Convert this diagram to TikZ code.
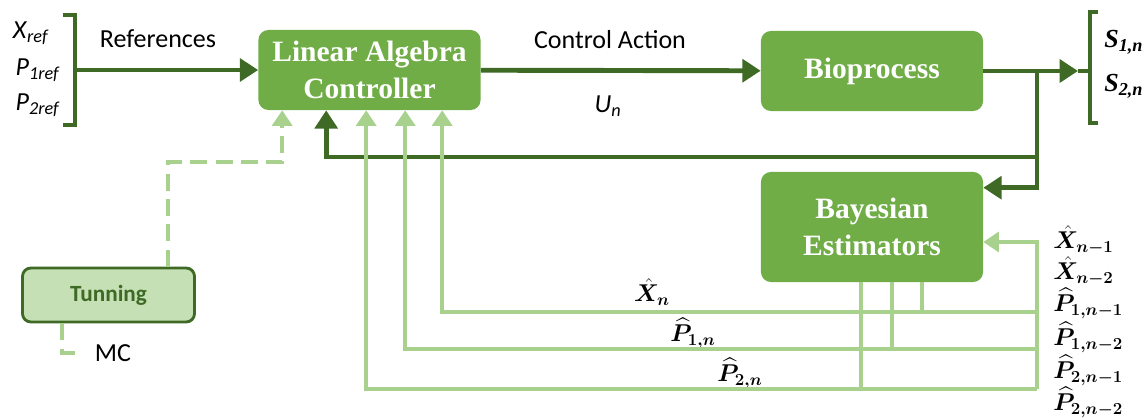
\documentclass[tikz,border=0pt]{standalone}
\usepackage{fontspec}
\usepackage{amsmath}
\usepackage{bm}
\setmainfont{Liberation Serif}
\setsansfont{Carlito}
\definecolor{boxgreen}{HTML}{70AD47}
\definecolor{darkgreen}{HTML}{3E6A26}
\definecolor{lightgreen}{HTML}{A9D18E}
\definecolor{palegreen}{HTML}{C5E0B4}
\usetikzlibrary{calc,positioning,arrows.meta}

\begin{document}
\begin{tikzpicture}[x=0.025cm,y=-0.025cm]
    \tikzstyle{block}=[rectangle,rounded corners=7pt,fill=boxgreen,text=white,
    font=\fontsize{21}{26}\selectfont\bfseries,align=center,minimum width=5.55cm]
    \tikzstyle{tunbox}=[rectangle,rounded corners=6pt,fill=palegreen,draw=darkgreen,line width=2pt,
    text=darkgreen,font=\fontsize{16.5}{20}\selectfont\sffamily\bfseries,minimum width=4.3cm,minimum height=1.35cm]
    \tikzstyle{txt}=[font=\fontsize{18.5}{22}\selectfont\sffamily,inner sep=1pt]
    \tikzstyle{sout}=[font=\fontsize{18.5}{22}\selectfont\bfseries\itshape,inner sep=0pt,anchor=west]
    \tikzstyle{est}=[font=\fontsize{17}{20}\selectfont,inner sep=0pt]
    \tikzstyle{dk}=[draw=darkgreen,line width=3.5pt]
    \tikzstyle{lt}=[draw=lightgreen,line width=2.8pt]
    \tikzstyle{dkarrow}=[-{Triangle[length=13pt,width=16pt]}]
    \tikzstyle{ltarrow}=[-{Triangle[length=11pt,width=14pt]}]
    \tikzstyle{dashline}=[dash pattern=on 12pt off 6pt]

    \useasboundingbox (0,0) rectangle (1145,418);

    \node[block,minimum height=2cm](ctrl) at (369.5,70){Linear Algebra\\Controller};
    \node[block,minimum height=2cm](bio) at (872,71){Bioprocess};
    \node[block,minimum height=2.75cm](bay) at (872,227){Bayesian\\Estimators};
    \node[tunbox](tun) at (108.5,295){Tunning};
    \node[txt](mc) at (113,353){MC};

    \node[txt](xref) at (31,33){\textit{X}\textsubscript{\textit{ref}}};
    \node[txt](p1ref) at (38,70){\textit{P}\textsubscript{\textit{1ref}}};
    \node[txt](p2ref) at (38,105){\textit{P}\textsubscript{\textit{2ref}}};
    \node[txt](refs) at (158,39){References};
    \node[txt](act) at (610,40){Control Action};
    \node[txt](un) at (608,106){\textit{U}\textsubscript{\textit{n}}};
    \node[sout](s1) at (1104,42){S\textsubscript{1,n}};
    \node[sout](s2) at (1104,86){S\textsubscript{2,n}};

    \node[est](xn) at (652,292){$\hat{\bm{X}}_{\bm{n}}$};
    \node[est](p1n) at (693,333){$\widehat{\bm{P}}_{\bm{1,n}}$};
    \node[est](p2n) at (740,373){$\widehat{\bm{P}}_{\bm{2,n}}$};
    \node[est,anchor=west](xm1) at (1053,240){$\hat{\bm{X}}_{\bm{n-1}}$};
    \node[est,anchor=west](xm2) at (1053,271){$\hat{\bm{X}}_{\bm{n-2}}$};
    \node[est,anchor=west](p1m1) at (1053,303){$\widehat{\bm{P}}_{\bm{1,n-1}}$};
    \node[est,anchor=west](p1m2) at (1053,337){$\widehat{\bm{P}}_{\bm{1,n-2}}$};
    \node[est,anchor=west](p2m1) at (1053,370){$\widehat{\bm{P}}_{\bm{2,n-1}}$};
    \node[est,anchor=west](p2m2) at (1053,402){$\widehat{\bm{P}}_{\bm{2,n-2}}$};

    \coordinate (lbr) at (75,70);
    \coordinate (rbr) at (1090,71);
    \coordinate (stip) at (1078,71);
    \coordinate (jn) at (1037,71);
    \coordinate (fb) at (1037,157);
    \coordinate (xr) at (1037,312);
    \coordinate (p1r) at (1037,349);
    \coordinate (p2r) at (1037,389);
    \coordinate (c0) at ($(ctrl.south west)+(24,0)$);
    \coordinate (cf) at ($(ctrl.south west)+(68,0)$);
    \coordinate (c1) at ($(ctrl.south west)+(184,0)$);
    \coordinate (c2) at ($(ctrl.south west)+(147,0)$);
    \coordinate (c3) at ($(ctrl.south west)+(108,0)$);
    \coordinate (o1) at ($(bay.south west)+(161,0)$);
    \coordinate (o2) at ($(bay.south west)+(131,0)$);
    \coordinate (o3) at ($(bay.south west)+(100,0)$);
    \coordinate (tn) at ($(tun.north west)+(147,0)$);
    \coordinate (tm) at ($(tun.south west)+(41,0)$);

    \draw[dk] (63,15) -| (75,125) -- ++(-12,0);
    \draw[dk] (1098,12) -| (1090,123) -- ++(8,0);

    \draw[dk,dkarrow] (lbr) -- (ctrl.west);
    \draw[dk,dkarrow] (ctrl) -- (bio);
    \draw[dk,dkarrow] (bio.east) -- (stip);
    \draw[dk] (stip) -- (rbr);
    \draw[dk,dkarrow] (jn) |- ($(bay.north east)+(0,16)$);
    \draw[dk,dkarrow] (fb) -| (cf);

    \draw[lt,ltarrow] (xr) -| (c1);
    \draw[lt,ltarrow] (p1r) -| (c2);
    \draw[lt,ltarrow] (p2r) -| (c3);
    \draw[lt] (o1) -- (o1 |- xr);
    \draw[lt] (o2) -- (o2 |- p1r);
    \draw[lt] (o3) -- (o3 |- p2r);
    \draw[lt,ltarrow] (p2r) |- ($(bay.east)+(0,15)$);

    \draw[lt,dashline,ltarrow] (tn) |- ($(c0)+(0,52)$) -- (c0);
    \draw[lt,dashline] (tm) |- ([xshift=-11pt]mc.west);
  \end{tikzpicture}
\end{document}
